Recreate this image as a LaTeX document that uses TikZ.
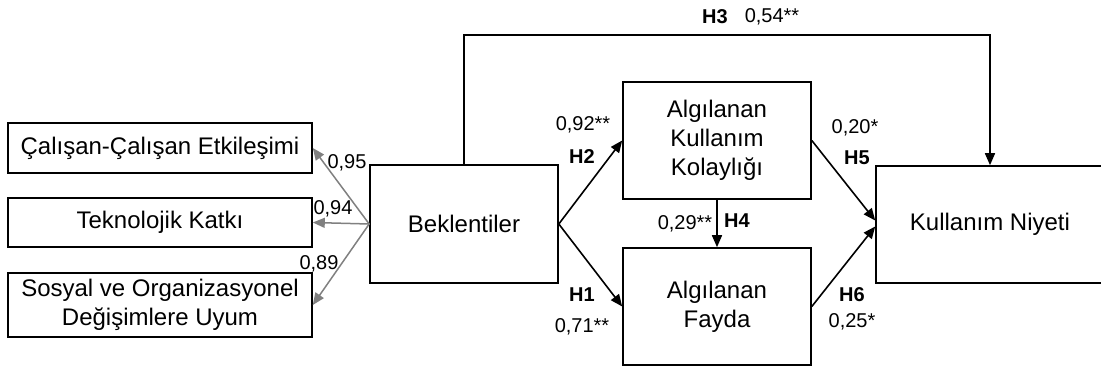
\documentclass[tikz,border=0pt]{standalone}
\usepackage{fontspec}
\setmainfont{Liberation Sans}
\usetikzlibrary{arrows.meta}
\begin{document}
\begin{tikzpicture}[x=1pt,y=-1pt,
  box/.style={draw, line width=1.6pt, align=center, inner sep=0pt,
    font=\fontsize{24}{29}\selectfont},
  lbl/.style={inner sep=0pt, font=\fontsize{20}{22}\selectfont},
  hyp/.style={inner sep=0pt, font=\fontsize{20}{22}\selectfont\bfseries},
  path/.style={line width=1.6pt, -{Triangle[length=12pt,width=10pt]}},
  load/.style={line width=1.5pt, draw=black!50, -{Triangle[length=12pt,width=10pt]}}]
  \useasboundingbox (0,0) rectangle (1101,367);

  % indicator boxes
  \node[box, minimum width=304pt, minimum height=50pt] (c1) at (160,148) {Çalışan-Çalışan Etkileşimi};
  \node[box, minimum width=304pt, minimum height=49pt] (c2) at (160,222.5) {Teknolojik Katkı};
  \node[box, minimum width=304pt, minimum height=64pt] (c3) at (160,305) {Sosyal ve Organizasyonel\\Değişimlere Uyum};

  % constructs
  \node[box, minimum width=188pt, minimum height=118pt] (bek) at (464,224) {Beklentiler};
  \node[box, minimum width=188pt, minimum height=117pt] (akk) at (717,140.5) {Algılanan\\Kullanım\\Kolaylığı};
  \node[box, minimum width=188pt, minimum height=117pt] (af) at (717,306.5) {Algılanan\\Fayda};
  \node[box, minimum width=228pt, minimum height=117pt] (kn) at (990,224.5) {Kullanım Niyeti};

  % factor loadings
  \draw[load] (bek.west) -- (c1.east);
  \draw[load] (bek.west) -- (c2.east);
  \draw[load] (bek.west) -- (c3.east);
  \node[lbl] (l1) at (347,163) {0,95};
  \node[lbl] (l2) at (333,209) {0,94};
  \node[lbl] (l3) at (319,264) {0,89};

  % structural paths
  \coordinate (top) at (0,35);
  \draw[path] (bek.north) -- (bek.north |- top) -| (kn.north);
  \draw[path] (bek.east) -- (akk.west);
  \draw[path] (bek.east) -- (af.west);
  \draw[path] (akk.south) -- (af.north);
  \draw[path] (akk.east) -- ([yshift=4pt]kn.west);
  \draw[path] (af.east) -- ([yshift=-2pt]kn.west);

  % path labels
  \node[hyp] (h3) at (715,17) {H3};
  \node[lbl] (v3) at (772,17) {0,54**};
  \node[lbl] (v2) at (583,125) {0,92**};
  \node[hyp] (h2) at (582,157) {H2};
  \node[hyp] (h1) at (582,295) {H1};
  \node[lbl] (v1) at (582,327) {0,71**};
  \node[lbl] (v4) at (685,224) {0,29**};
  \node[hyp] (h4) at (737,221) {H4};
  \node[lbl] (v5) at (855,128) {0,20*};
  \node[hyp] (h5) at (857,158) {H5};
  \node[hyp] (h6) at (852,295) {H6};
  \node[lbl] (v6) at (852,322) {0,25*};
\end{tikzpicture}
\end{document}
